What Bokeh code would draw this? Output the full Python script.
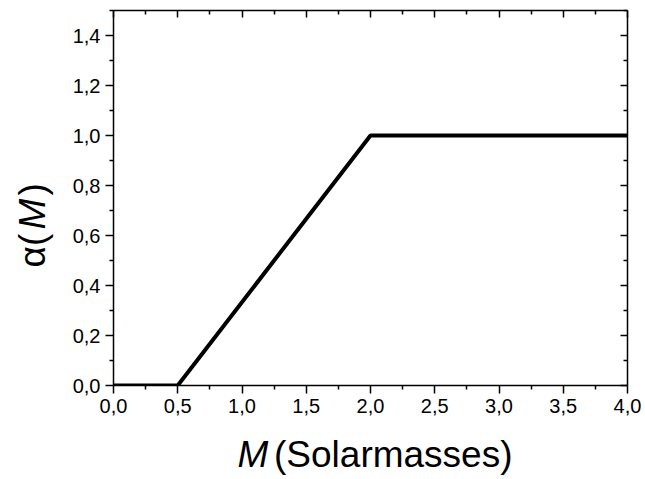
import math
from bokeh.plotting import figure
from bokeh.layouts import row, column
from bokeh.models import (LinearAxis, FixedTicker, CustomJSTickFormatter,
                          CustomLabelingPolicy, Range1d, ColumnDataSource)
from bokeh.core.properties import value
from bokeh.embed import file_html
from bokeh.resources import INLINE

# Piecewise alpha(M) curve
mass = [0.0, 0.5, 2.0, 4.0]
alpha = [0.0, 0.0, 1.0, 1.0]

x_major = [0.0, 0.5, 1.0, 1.5, 2.0, 2.5, 3.0, 3.5, 4.0]
x_minor = [0.25, 0.75, 1.25, 1.75, 2.25, 2.75, 3.25, 3.75]
y_major = [0.0, 0.2, 0.4, 0.6, 0.8, 1.0, 1.2, 1.4]
y_minor = [0.1, 0.3, 0.5, 0.7, 0.9, 1.1, 1.3, 1.5]

FONT = "Liberation Sans"
BIG = "37px"

LEFT_W = 60      # strip holding the rotated y title
BOTTOM_H = 49    # strip holding the x title
TOTAL_W, TOTAL_H = 645, 479
MAIN_W = TOTAL_W - LEFT_W
MAIN_H = TOTAL_H - BOTTOM_H


def bare(width, height):
    f = figure(width=width, height=height, output_backend="svg", toolbar_location=None,
               x_range=Range1d(0, width), y_range=Range1d(0, height),
               x_axis_location=None, y_axis_location=None,
               min_border=0, min_border_left=0, min_border_right=0,
               min_border_top=0, min_border_bottom=0, frame_align=False)
    f.outline_line_color = None
    f.xgrid.visible = False
    f.ygrid.visible = False
    return f


p = figure(width=MAIN_W, height=MAIN_H, output_backend="svg", toolbar_location=None,
           x_range=Range1d(0, 4.0), y_range=Range1d(0, 1.5),
           x_axis_location=None, y_axis_location=None,
           min_border_left=113 - LEFT_W, min_border_right=18,
           min_border_top=10, min_border_bottom=MAIN_H - 385, frame_align=False)
p.outline_line_color = None
p.xgrid.visible = False
p.ygrid.visible = False

comma_fmt = CustomJSTickFormatter(code="return tick.toFixed(1).replace('.', ',');")

# mirror axes (top/right) carry ticks only, no labels
no_labels = CustomLabelingPolicy(code="""
for (const i of [...indices]) { indices.unset(i) }
return indices
""")


def style_axis(ax, show_labels, inward):
    ax.axis_line_color = "black"
    ax.axis_line_width = 1.5
    ax.major_tick_line_color = "black"
    ax.minor_tick_line_color = "black"
    ax.major_tick_line_width = 1.5
    ax.minor_tick_line_width = 1.5
    if inward:
        ax.major_tick_in, ax.major_tick_out = 7, 0
        ax.minor_tick_in, ax.minor_tick_out = 4, 0
    else:
        ax.major_tick_in, ax.major_tick_out = 0, 8
        ax.minor_tick_in, ax.minor_tick_out = 0, 4
    if show_labels:
        ax.major_label_text_font = FONT
        ax.major_label_text_font_size = "20px"
        ax.major_label_text_color = "black"
        ax.formatter = comma_fmt
    else:
        ax.major_label_policy = no_labels
        ax.major_label_text_font_size = "0px"
        ax.major_label_standoff = 0


xb = LinearAxis(ticker=FixedTicker(ticks=x_major, minor_ticks=x_minor))
style_axis(xb, True, False)
xb.major_label_standoff = 5
p.add_layout(xb, "below")

xt = LinearAxis(ticker=FixedTicker(ticks=x_major, minor_ticks=x_minor))
style_axis(xt, False, True)
p.add_layout(xt, "above")

yl = LinearAxis(ticker=FixedTicker(ticks=y_major, minor_ticks=y_minor))
style_axis(yl, True, False)
yl.major_label_standoff = 5
p.add_layout(yl, "left")

yr = LinearAxis(ticker=FixedTicker(ticks=y_major, minor_ticks=y_minor))
style_axis(yr, False, True)
p.add_layout(yr, "right")

src = ColumnDataSource(data=dict(m=mass, a=alpha))
p.line("m", "a", source=src, line_color="black", line_width=4)

# x title: italic symbol followed by upright unit text
xt_fig = bare(MAIN_W, BOTTOM_H)
xt_fig.text(x=[177], y=[25], text=["M"], text_font=value(FONT), text_font_size=BIG,
            text_font_style="italic", text_align="left", text_baseline="alphabetic",
            text_color="black")
xt_fig.text(x=[452], y=[25], text=["(Solarmasses)"], text_font=value(FONT),
            text_font_size=BIG, text_align="right", text_baseline="alphabetic",
            text_color="black")

# y title, rotated: α( M )
yt_fig = bare(LEFT_W, TOTAL_H)
yt_fig.text(x=[32], y=[212], text=["α("], angle=math.pi / 2, text_font=value(FONT),
            text_font_size=BIG, text_align="left", text_baseline="alphabetic",
            text_color="black")
yt_fig.text(x=[32], y=[250], text=["M"], angle=math.pi / 2, text_font=value(FONT),
            text_font_size=BIG, text_font_style="italic", text_align="left",
            text_baseline="alphabetic", text_color="black")
yt_fig.text(x=[32], y=[284], text=[")"], angle=math.pi / 2, text_font=value(FONT),
            text_font_size=BIG, text_align="left", text_baseline="alphabetic",
            text_color="black")

layout = row(yt_fig, column(p, xt_fig, spacing=0), spacing=0)

open("out.html", "w").write(file_html(layout, INLINE))
